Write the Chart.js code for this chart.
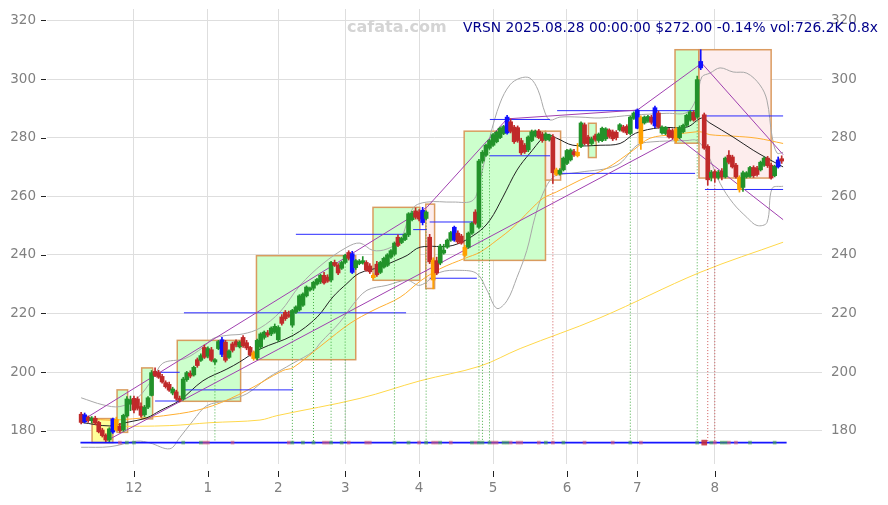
<!DOCTYPE html>
<html><head><meta charset="utf-8">
<script src="https://cdn.jsdelivr.net/npm/chart.js@4.4.1/dist/chart.umd.min.js"></script>
<style>html,body{margin:0;padding:0;background:#fff;}#wrap{width:888px;height:505px;position:relative;}</style>
</head><body><div id="wrap"><canvas id="c" width="888" height="505"></canvas></div>
<script>
// ---- axis ticks (trading-day index of first session of each month) ----
const tickIdx = [15,36,56,75,96,117,138,158,180];
const tickLabels = ['12','1','2','3','4','5','6','7','8'];
const yTicks = [180,200,220,240,260,280,300,320];

// ---- daily OHLC, VRSN 2024-11-08 .. 2025-08-28 (200 sessions) ----
const open = [185.6,183.0,184.6,183.4,184.2,182.8,180.2,178.4,176.8,179.5,
183.8,181.5,180.2,185.0,189.0,191.0,190.8,188.2,185.4,188.0,
192.0,200.2,199.8,198.5,196.4,195.8,192.8,193.2,191.0,190.8,
197.4,199.6,199.0,204.2,204.0,208.4,205.4,207.6,203.4,208.0,
211.0,210.2,205.0,209.6,210.4,208.6,211.8,210.0,208.4,206.6,
204.8,208.6,211.8,213.4,213.0,213.6,211.0,218.8,220.4,219.6,
216.0,220.4,221.2,222.8,226.0,228.0,228.6,230.0,230.8,233.0,
232.4,231.4,237.4,236.4,235.4,237.4,240.8,240.4,235.6,237.0,
237.2,237.4,236.2,232.2,236.8,234.0,235.8,236.4,239.2,240.2,
246.0,244.2,245.2,246.8,252.0,255.0,254.6,255.2,252.4,246.0,
238.2,238.0,237.2,240.6,242.6,245.0,245.0,247.4,246.4,242.6,
242.6,247.4,254.6,249.4,272.0,274.0,276.4,277.4,278.6,280.0,
281.4,281.6,285.4,283.6,283.4,279.0,277.4,275.8,279.0,280.6,
282.2,281.2,279.4,279.2,280.2,269.0,267.6,269.0,271.2,272.4,
275.2,275.0,277.0,284.4,280.2,278.0,280.6,279.0,279.0,279.6,
282.6,282.0,281.8,282.6,283.6,283.8,281.4,286.6,283.2,286.8,
285.0,285.6,287.0,284.0,288.4,281.6,281.4,282.6,282.4,282.8,
280.0,282.0,284.2,286.0,288.6,287.0,303.8,287.8,277.0,266.4,
268.4,266.4,268.6,266.6,274.0,273.4,270.6,266.4,263.0,266.6,
266.8,269.8,269.6,269.0,270.6,273.0,270.6,267.0,270.0,272.8];
const high = [186.2,186.0,185.0,184.8,184.9,183.2,180.8,178.9,181.0,184.3,
184.6,182.5,185.6,191.6,191.8,191.8,191.5,189.5,188.6,191.6,
200.5,201.4,200.6,199.2,197.0,196.6,194.8,193.8,191.8,198.2,
200.2,200.4,202.0,204.8,206.2,209.2,208.6,208.4,204.6,210.8,
211.8,210.8,207.6,210.2,211.0,210.6,212.4,210.8,208.8,207.2,
211.2,213.4,214.0,214.2,215.4,216.4,215.8,219.6,221.0,220.8,
221.4,222.6,226.4,227.0,229.4,229.0,231.0,232.0,233.4,234.0,
233.2,237.8,238.2,237.0,237.8,240.2,241.4,241.2,238.4,238.4,
239.4,238.0,237.0,233.6,237.8,237.8,239.2,240.4,241.8,244.4,
246.8,246.0,247.4,254.4,254.8,256.0,255.4,256.2,255.0,247.0,
239.0,239.2,243.6,243.6,245.4,248.0,249.8,248.2,247.0,243.2,
247.8,251.2,255.4,272.6,275.6,277.8,279.4,281.4,282.2,283.6,
284.2,287.6,286.4,284.2,284.0,279.8,278.0,280.6,282.6,282.6,
282.8,281.8,281.6,281.2,281.0,269.6,269.4,273.4,276.0,276.2,
276.0,278.0,285.4,285.0,280.8,280.2,281.2,281.6,283.6,283.4,
283.0,282.6,282.4,284.8,284.2,284.4,287.4,288.8,289.8,287.4,
287.4,287.6,287.6,290.8,289.0,284.0,283.8,283.2,283.0,283.4,
284.0,284.6,288.0,289.2,289.2,301.0,310.0,288.4,277.6,268.8,
269.0,268.8,269.4,273.4,275.6,274.0,271.2,267.0,268.6,268.4,
270.2,270.4,270.2,272.0,273.4,273.6,271.2,270.6,273.4,273.8];
const low = [182.3,182.6,182.8,182.6,182.0,179.2,177.8,176.0,176.2,179.0,
179.8,179.4,179.8,184.6,186.8,186.0,187.0,184.6,184.8,187.5,
191.8,198.4,197.8,196.2,194.5,193.4,192.2,190.4,189.8,190.4,
196.8,198.0,198.6,201.6,203.6,204.6,204.8,203.6,202.6,207.6,
205.2,203.4,204.6,206.8,208.6,208.2,208.4,207.6,205.4,204.0,
204.2,208.0,211.2,212.0,212.4,213.2,210.4,216.0,217.6,218.6,
215.4,220.0,220.8,222.4,225.6,227.6,228.0,229.6,230.2,230.0,
230.6,230.8,236.0,233.2,235.0,237.0,238.2,233.6,235.0,236.6,
236.8,234.4,233.6,231.6,232.6,233.6,235.4,236.0,238.8,239.8,
242.8,243.8,244.8,246.2,251.6,252.2,251.6,250.2,252.0,237.0,
228.4,233.2,236.6,240.2,242.2,244.6,244.6,243.8,243.6,239.4,
242.2,247.0,250.4,249.0,271.4,273.6,276.0,277.0,278.2,279.6,
281.0,281.2,281.6,278.0,278.4,274.2,274.6,275.2,278.6,280.2,
279.6,278.4,279.0,278.8,264.4,267.0,267.2,268.6,270.8,272.0,
273.6,273.4,276.6,277.6,277.4,277.4,278.8,278.4,278.6,279.0,
279.8,279.0,279.2,282.2,281.8,281.0,281.0,286.2,283.0,276.0,
284.6,285.2,284.6,283.4,283.2,281.2,281.0,279.8,279.6,278.4,
279.6,281.6,283.8,285.6,285.6,286.6,303.2,276.0,263.8,265.2,
264.8,265.8,265.6,266.2,271.0,269.6,266.2,261.4,261.6,266.2,
266.4,266.4,266.8,268.6,270.2,269.8,265.8,266.6,269.6,271.2];
const close = [182.8,185.4,183.4,184.3,182.6,179.6,178.3,176.8,180.6,184.0,
180.2,180.0,185.2,190.8,190.6,187.0,187.6,185.2,188.0,191.2,
199.8,198.8,198.2,196.6,195.0,193.8,194.2,191.0,190.4,197.6,
199.8,198.6,201.6,202.2,205.6,205.0,208.0,204.0,204.2,210.4,
206.0,204.0,207.2,207.4,209.2,210.2,209.0,208.2,205.8,204.6,
210.8,213.0,213.6,212.6,215.0,215.6,215.2,216.6,218.2,219.0,
221.0,222.2,226.0,226.6,229.0,228.6,230.6,231.6,233.0,230.4,
231.0,237.4,236.4,233.8,237.4,239.8,238.8,234.0,238.0,237.8,
238.0,234.8,234.2,233.0,233.2,237.4,238.8,240.0,241.4,244.0,
243.2,245.6,247.0,254.0,254.2,252.8,252.2,251.0,254.6,237.6,
231.4,233.8,243.0,241.6,245.0,247.6,249.4,244.4,244.0,239.8,
247.4,250.8,250.8,272.0,275.0,277.4,279.0,281.0,281.8,283.2,
283.8,287.0,282.2,278.6,279.0,274.8,275.2,280.2,282.0,282.2,
280.0,279.0,281.2,280.8,268.0,267.4,268.8,273.0,275.6,275.8,
274.2,273.8,285.0,278.0,278.0,279.6,279.4,281.2,283.2,283.0,
280.4,279.6,280.0,284.4,282.2,281.6,287.0,288.4,289.4,278.0,
287.0,287.2,285.2,290.2,283.6,283.6,283.4,280.2,280.0,279.0,
283.4,284.2,287.6,288.8,286.0,299.8,306.0,276.4,265.6,268.2,
266.4,268.2,266.6,273.0,271.6,270.0,266.6,262.2,268.0,268.0,
269.8,267.0,267.4,271.6,273.0,270.4,266.2,270.2,272.4,272.0];
const blueIdx = [1,9,40,77,97,106,121,158,163,176,198];
const orangeIdx = [10,49,83,100,109,135,141,159,169,187];

// ---- indicator curves: [session index, price] ----
const ma20 = [[0,182.8],[8,181.6],[13,182.8],[18.7,184.4],[22.4,186.8],[28,190.3],[34.6,197],[41.4,201],[45,203.4],[50.8,207.8],[60.2,212.5],[67,218.7],[71.5,225.6],[75.5,230.2],[79,233.7],[84.9,235.8],[89.7,238.2],[92.6,239.8],[96.3,242.6],[105.6,243.2],[112.4,247.4],[116.1,251.8],[119.8,259.7],[123.8,268.9],[127.5,274.7],[132.3,280.9],[135.1,279.8],[139.7,277.4],[147.4,277.4],[153.1,278],[157.5,281.5],[164.4,283.4],[172.1,283.6],[176.3,286.7],[178.6,285],[185.2,280.2],[190.9,275.7],[194.8,273],[199.4,270]];
const ma50 = [[4,183.8],[10,183.6],[28,185.8],[37.4,188.5],[47.1,193.7],[57.3,200.5],[60.2,201.5],[68.7,209.5],[76.4,216.6],[82.9,221],[90.6,225.5],[96.3,231],[101.9,235.2],[109,238.8],[113.3,240.9],[118.1,245],[122.7,249.4],[127.5,255.2],[131.2,259.3],[135.1,261.5],[141.7,265.5],[149.4,269.6],[156.8,275.7],[161.6,279.8],[168.1,281],[174.9,282],[176.3,281.9],[178.6,281],[185.2,280.5],[192,279.8],[199.4,278]];
const ma200 = [[8,181.4],[25.2,181.7],[36.6,182.7],[50.8,183.6],[55.6,185.1],[79.2,191],[96.3,197],[113.3,202],[124.7,208],[147.4,218.5],[175.8,234],[199.4,244.3]];
const bbUpper = [[0,191.2],[6.2,188.8],[11,188.2],[15.9,191],[20.4,197.8],[23.2,203],[29.5,204.6],[34.6,208.4],[37.4,211.4],[41.4,212.5],[46,213],[50.8,215],[56.5,220.5],[62.2,229.6],[68.7,237],[75.5,242.6],[79.2,244],[82.9,241.5],[86.9,242],[90.6,245],[94.3,256],[98.2,258],[105.6,258],[111.3,258.6],[113.3,265.5],[116.1,280.2],[119,291.8],[121.8,298],[124.7,300.3],[127.5,300.3],[129.8,296.2],[131.8,288.4],[133.2,286],[136,287],[141.7,287],[147.4,286.7],[156.8,287.7],[166.4,288.3],[172.1,288.6],[174.9,293.8],[176.3,300.7],[178.6,302],[181.5,303.8],[185.2,302.4],[189.1,302],[192.8,298],[194.8,292.8],[196.3,280.2],[197.7,274.7],[199.4,275]];
const bbLower = [[0,174.3],[8.2,174.5],[15.9,176.4],[19.5,175.8],[25.2,173.8],[28,177.6],[31.8,183.4],[35.7,188.5],[41.4,190.3],[47.1,192.6],[52.8,197.8],[60.2,203],[65.9,207],[68,210],[73.5,217],[77.2,223],[81.2,227.9],[86.9,229.6],[92.6,231.3],[96.3,229.6],[101.9,234],[107.6,234.7],[112.4,233.6],[115.3,227.9],[118.1,221.7],[121,224.4],[123.8,232.3],[126.6,241.5],[128.9,252.8],[131.2,261],[134,266.5],[136.9,267.5],[141.7,268.2],[152.2,270.6],[157.9,277.4],[161.6,278.5],[172.1,279],[174.9,279],[177.8,274.7],[181.5,264.4],[185.2,257.6],[189.1,252.8],[192,250],[194.8,251],[196.3,262.7],[199.4,263.4]];

// ---- trend lines and levels ----
const trendUpper = [[1,184.0],[98.2,256.2],[121,286.4],[158,289.4],[176.3,305.4],[199.4,274.2]];
const trendLower = [[7.3,176.6],[169.3,280.2],[199.4,252]];
const levels = [[21,28,199.9],[21,28,190.1],[29,60.2,193.9],[29.2,92.3,220.2],[61,92.3,247],[94.3,98.2,254.2],[94.3,98.2,248.6],[99,112.4,251.2],[99,112.4,232],[116.1,133.2,286.2],[116.1,133.2,273.8],[135.2,174.4,289.2],[135.2,174.4,267.8],[177.2,199.4,287.4],[177.2,199.4,262.3]];
// boxes: [fromIdx, toIdx, lowPrice, highPrice, kind]
const boxes = [[3.1,9.0,175.9,184.1,'y'],[10.2,13.2,179.4,193.9,'g'],[17.2,20.3,184,201.4,'g'],[27.3,45.3,190,210.8,'g'],[49.8,78.0,204.2,239.7,'g'],[82.9,96.2,231.3,256.2,'g'],[97.9,100.4,228.5,257.3,'p'],[108.8,131.9,238.1,282.2,'g'],[131.9,136.2,265.5,282.2,'p'],[144.1,146.3,273.2,284.9,'g'],[168.7,175.5,278.1,310,'g'],[175.5,196.0,266.2,310,'p']];
const signalGreen = [38,60,66,71,75,89,98,113,114,116,156,175];
const signalRed = [134,178,180];
const markerGreen = [13,15,29,34,60,63,66,71,74,89,93,98,102,111,113,114,116,120,121,132,137,156,175,179,182,183,190,197];
const markerRed = [11,35,36,43,59,69,70,76,81,82,96,100,101,105,112,117,118,122,124,125,130,134,143,151,159,180,184,186];
const markerBig = [177];
const baseLevel = 175.9;
const titleText = 'VRSN 2025.08.28 00:00:00 $272.00 -0.14% vol:726.2K 0.8x';
const watermark = 'cafata.com';

// ---- build ----
const N = close.length;
const idx = Array.from({length:N},(_,i)=>i);
const colOf = i => blueIdx.includes(i) ? '#1010ff' : orangeIdx.includes(i) ? '#ffa000' : (close[i] >= open[i] ? '#22922a' : '#c02a2a');
const cols = idx.map(colOf);
const pts = a => a.map(p => ({x:p[0], y:p[1]}));
const lineDs = (data, color, order, extra={}) => Object.assign({type:'line', data, borderColor:color, borderWidth:1, pointRadius:0, tension:0.35, fill:false, order}, extra);
const levelPts = []; levels.forEach(l => { levelPts.push({x:l[0],y:l[2]},{x:l[1],y:l[2]},{x:l[1],y:null}); });
const sigPts = list => { const r=[]; list.forEach(i => r.push({x:i,y:low[i]},{x:i,y:baseLevel},{x:i,y:null})); return r; };
const mk = list => list.map(i => ({x:i, y:baseLevel}));
const noPad = s => { s.paddingTop = 0; s.paddingBottom = 0; s.paddingLeft = 0; s.paddingRight = 0; };

Chart.defaults.font.family = 'DejaVu Sans';
const boxPlugin = {
  id:'boxes',
  beforeDatasetsDraw(chart){
    const {ctx, chartArea:a, scales:{x, y}} = chart;
    ctx.save(); ctx.beginPath(); ctx.rect(a.left,a.top,a.right-a.left,a.bottom-a.top); ctx.clip();
    boxes.forEach(b => {
      const x0 = x.getPixelForValue(b[0]), x1 = x.getPixelForValue(b[1]);
      const y0 = y.getPixelForValue(b[3]), y1 = y.getPixelForValue(b[2]);
      ctx.fillStyle = b[4]==='g' ? '#ccffcc' : b[4]==='p' ? '#fdeded' : '#ffff99';
      ctx.fillRect(x0,y0,x1-x0,y1-y0);
      ctx.strokeStyle = 'rgba(215,145,80,0.9)'; ctx.lineWidth = 1.5;
      ctx.strokeRect(x0,y0,x1-x0,y1-y0);
    });
    ctx.restore();
  },
  afterDraw(chart){
    const {ctx, chartArea:a, scales:{x, y}} = chart;
    ctx.save();
    ctx.strokeStyle = '#222'; ctx.lineWidth = 1;
    tickIdx.forEach(t => { const px = Math.round(x.getPixelForValue(t))+0.5; ctx.beginPath(); ctx.moveTo(px, a.bottom+7); ctx.lineTo(px, a.bottom+13); ctx.stroke(); });
    yTicks.forEach(v => { const py = Math.round(y.getPixelForValue(v))+0.5; ctx.beginPath(); ctx.moveTo(a.left-6, py); ctx.lineTo(a.left-1, py); ctx.stroke(); });
    ctx.font = 'bold 16px "DejaVu Sans"'; ctx.fillStyle = '#d4d4d4'; ctx.textBaseline = 'alphabetic'; ctx.textAlign = 'left';
    ctx.fillText(watermark, 347, 32);
    ctx.font = '13.8px "DejaVu Sans"'; ctx.fillStyle = '#00008b'; ctx.textAlign = 'right';
    ctx.fillText(titleText, 878, 32);
    ctx.restore();
  }
};

new Chart(document.getElementById('c'), {
  type:'line',
  data:{ datasets:[
    {type:'bar', data: idx.map(i => { let a=Math.min(open[i],close[i]), b=Math.max(open[i],close[i]); if (b-a<0.35) b=a+0.35; return {x:i, y:[a,b]}; }), backgroundColor: cols, barThickness:4, grouped:false, order:10},
    {type:'bar', data: idx.map(i => ({x:i, y:[low[i], high[i]]})), backgroundColor: cols, barThickness:1, grouped:false, order:11},
    lineDs(pts(trendUpper), '#a040b0', 14, {tension:0}),
    lineDs(pts(trendLower), '#a040b0', 14, {tension:0}),
    lineDs(sigPts(signalGreen), 'rgba(40,160,40,0.85)', 15, {tension:0, borderDash:[1,2]}),
    lineDs(sigPts(signalRed), 'rgba(200,60,60,0.85)', 15, {tension:0, borderDash:[1,2]}),
    lineDs(levelPts, '#2a2aff', 16, {tension:0}),
    lineDs(pts(ma20), '#222222', 17),
    lineDs(pts(ma50), '#ffae30', 18),
    lineDs(pts(ma200), '#ffd84a', 19),
    lineDs(pts(bbUpper), '#a8a8a8', 20),
    lineDs(pts(bbLower), '#a8a8a8', 20),
    lineDs([{x:-0.2,y:baseLevel},{x:200.4,y:baseLevel}], '#1515ff', 5, {tension:0, borderWidth:1.8}),
    {type:'line', data: mk(markerGreen), showLine:false, pointStyle:'rect', pointRadius:2.6, pointBackgroundColor:'rgba(70,165,70,0.6)', pointBorderWidth:0, order:4},
    {type:'line', data: mk(markerRed), showLine:false, pointStyle:'rect', pointRadius:2.6, pointBackgroundColor:'rgba(215,90,110,0.6)', pointBorderWidth:0, order:4},
    {type:'line', data: mk(markerBig), showLine:false, pointStyle:'rect', pointRadius:4, pointBackgroundColor:'rgba(200,40,50,0.85)', pointBorderWidth:0, order:3}
  ]},
  options:{
    responsive:false, animation:false, events:[],
    layout:{padding:{top:9, left:0, right:0, bottom:0}},
    plugins:{legend:{display:false}, tooltip:{enabled:false}},
    scales:{
      x:{type:'linear', min:-9.7, max:210.45, offset:false,
        grid:{color:'#dedede', drawTicks:false, offset:false}, border:{display:false},
        afterBuildTicks: s => { s.ticks = tickIdx.map(v => ({value:v})); },
        afterFit: s => { s.height = 41; noPad(s); },
        ticks:{autoSkip:false, maxRotation:0, padding:16, color:'#808080', font:{size:13.5}, callback:(v,i)=>tickLabels[i]}},
      y:{type:'linear', position:'left', min:168.6, max:323.9,
        grid:{color:'#dedede', drawTicks:false}, border:{display:false},
        afterBuildTicks: s => { s.ticks = yTicks.map(v => ({value:v})); },
        afterFit: s => { s.width = 47; noPad(s); },
        ticks:{padding:11, color:'#808080', font:{size:13.5}}},
      y2:{type:'linear', position:'right', min:168.6, max:323.9,
        grid:{display:false, drawTicks:false}, border:{display:false},
        afterBuildTicks: s => { s.ticks = yTicks.map(v => ({value:v})); },
        afterFit: s => { s.width = 66; noPad(s); },
        ticks:{padding:9, color:'#808080', font:{size:13.5}}}
    }
  },
  plugins:[boxPlugin]
});
</script></body></html>
